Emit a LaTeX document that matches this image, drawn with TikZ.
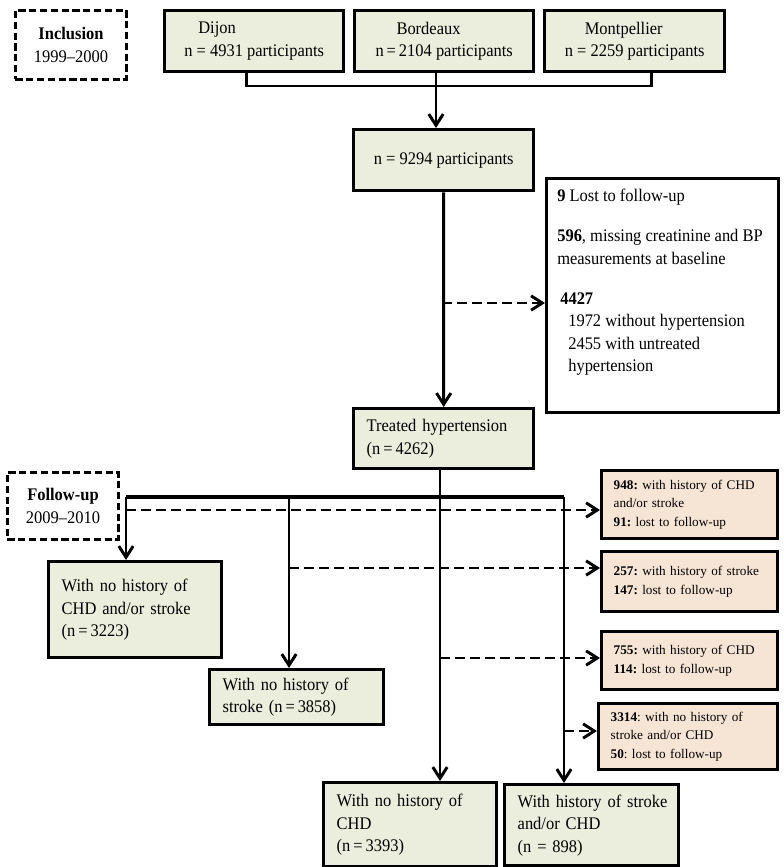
\documentclass[tikz,border=0pt]{standalone}
\usepackage{fontspec}
\setmainfont{Liberation Serif}[FakeStretch=0.93]
\newfontfamily\smallserif{Liberation Serif}
\usetikzlibrary{arrows.meta, positioning}
\definecolor{boxgreen}{RGB}{235,238,220}
\definecolor{boxpink}{RGB}{246,229,213}

\tikzset{
    gbox/.style={draw, fill=boxgreen, line width=2.4pt, align=left, anchor=north west, inner xsep=3.25mm, inner ysep=0pt},
    cbox/.style={draw, fill=boxgreen, line width=2.4pt, align=left, anchor=north west, inner sep=0pt},
    pbox/.style={draw, fill=boxpink, line width=2.4pt, align=left, anchor=north west, inner xsep=3mm, inner ysep=0pt, font=\smallserif\fontsize{9.4}{13.1}\selectfont},
    phase/.style={draw, dash pattern=on 1.8mm off 0.9mm, line width=2.1pt, align=center, anchor=north west, inner sep=0pt},
    conn/.style={line width=2.1pt},
    arr/.style={conn, -{Straight Barb[length=2.8mm, width=3.6mm]}},
    darr/.style={arr, dash pattern=on 2.5mm off 1.25mm},
}

\begin{document}
\frenchspacing
\begin{tikzpicture}[x=0.25mm, y=-0.25mm, font=\fontsize{12.6}{16}\selectfont]
    \useasboundingbox (0,0) rectangle (784,867);

    % Inclusion
    \node[phase, minimum width=27.75mm, minimum height=17.25mm] (incl) at (14,9) {\textbf{Inclusion}\\1999--2000};
    \node[cbox, minimum width=44.75mm, minimum height=15.25mm] (dijon) at (163,9) {\hspace*{3.5mm}Dijon\\n = 4931 participants};
    \node[cbox, minimum width=44.75mm, minimum height=15.25mm] (bord) at (353,9) {\hspace*{5.25mm}Bordeaux\\n\,=\,2104 participants};
    \node[cbox, minimum width=45mm, minimum height=15.25mm] (montp) at (543,9) {\hspace*{5mm}Montpellier\\n = 2259 participants};
    \node[cbox, minimum width=45mm, minimum height=15.25mm] (all) at (352,128) {n = 9294 participants};

    % Excluded at baseline
    \node[draw, line width=2.4pt, anchor=north west, minimum width=58mm, minimum height=58.5mm] (excl) at (545,177) {};
    \node[anchor=north west, align=left, inner sep=0pt] (excltext) at (557,189) {\textbf{9} Lost to follow-up\\[4.4mm]
        \textbf{596}, missing creatinine and BP\\measurements at baseline\\[4.4mm]
        \hspace*{0.75mm}\textbf{4427}\\\hspace*{2.75mm}1972 without hypertension\\\hspace*{2.75mm}2455 with untreated\\\hspace*{2.75mm}hypertension};

    \node[gbox, text width=38.5mm, minimum height=15mm] (treated) at (352,407) {Treated hypertension\\(n\,=\,4262)};

    % Follow-up
    \node[phase, minimum width=27.75mm, minimum height=16.75mm] (follow) at (6,471) {\textbf{Follow-up}\\2009--2010};
    \node[pbox, text width=38mm, minimum height=17mm] (pink1) at (600,469) {\textbf{948:} with history of CHD\\and/or stroke\\\textbf{91:} lost to follow-up};
    \node[pbox, text width=38mm, minimum height=15mm] (pink2) at (600,550) {\textbf{257:} with history of stroke\\\textbf{147:} lost to follow-up};
    \node[pbox, text width=38mm, minimum height=14.5mm] (pink3) at (600,630) {\textbf{755:} with history of CHD\\\textbf{114:} lost to follow-up};
    \node[pbox, text width=38.75mm, minimum height=16.5mm] (pink4) at (597,702) {\textbf{3314}: with no history of\\stroke and/or CHD\\\textbf{50}: lost to follow-up};

    \node[gbox, text width=36.75mm, minimum height=24mm] (nocs) at (47,560) {\mbox{With no history of}\\\mbox{CHD and/or stroke}\\(n\,=\,3223)};
    \node[gbox, text width=37mm, minimum height=13.75mm] (nostroke) at (208,668) {\mbox{With no history of}\\\mbox{stroke (n\,=\,3858)}};
    \node[gbox, text width=36.75mm, minimum height=21mm] (nochd) at (322,781) {\mbox{With no history of}\\CHD\\(n\,=\,3393)};
    \node[gbox, text width=37mm, minimum height=20.25mm] (hist) at (503,783) {\mbox{With history of stroke}\\\mbox{and/or CHD}\\\mbox{(n = 898)}};

    % Connectors
    \coordinate (join) at (436,86);
    \coordinate (xsplit) at (442,303);
    \coordinate (b1) at (126,497);
    \coordinate (b2) at (289,497);
    \coordinate (b3) at (440,497);
    \coordinate (b4) at (564,497);
    \coordinate (d1) at (126,510);
    \coordinate (d2) at (289,568);
    \coordinate (d3) at (440,658);
    \coordinate (d4) at (564,731);

    \draw[conn] ([xshift=-1.875mm]dijon.south) |- (join) -| ([xshift=4.25mm]montp.south);
    \draw[conn] (bord.south -| join) -- (join);
    \draw[arr] (join) -- (all.north -| join);
    \draw[arr] (all) -- (treated);
    \draw[darr] (xsplit) -- (xsplit -| excl.west);

    \draw[conn] (treated.south -| b3) -- (b3);
    \draw[conn, line width=2.9pt] (b1) -- (b4);
    \foreach \b/\t in {b1/nocs, b2/nostroke, b3/nochd, b4/hist}
        \draw[arr] (\b) -- (\b |- \t.north);
    \foreach \d/\p in {d1/pink1, d2/pink2, d3/pink3, d4/pink4}
        \draw[darr] (\d) -- (\d -| \p.west);
\end{tikzpicture}
\end{document}
